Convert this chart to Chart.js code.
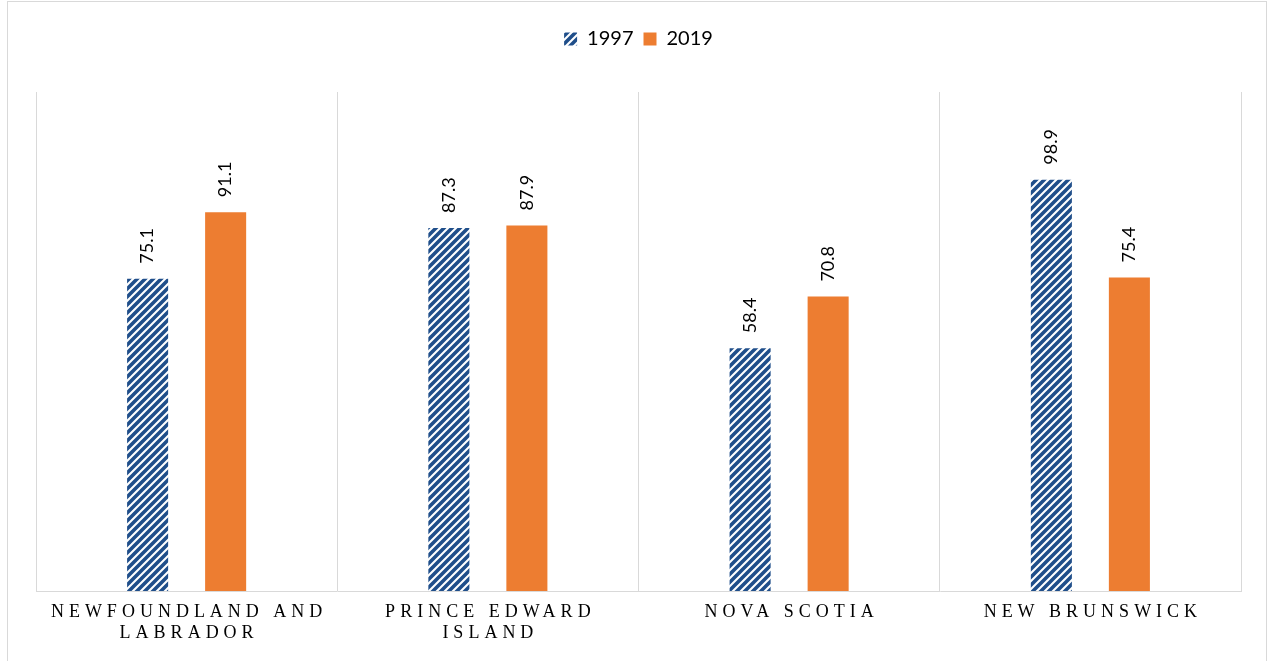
<!DOCTYPE html>
<html>
<head>
<meta charset="utf-8">
<script src="https://cdn.jsdelivr.net/npm/chart.js@4"></script>
<style>
    html, body { margin: 0; padding: 0; background: #fff; }
    .frame {
        position: absolute;
        left: 7px; top: 1px;
        width: 1260px; height: 670px;
        border: 1px solid #D9D9D9;
        box-sizing: border-box;
    }
    canvas { position: absolute; left: 0; top: 0; }
</style>
</head>
<body>
<div class="frame"></div>
<canvas id="chart" width="1271" height="661"></canvas>
<script>
const provinces = [
    ["NEWFOUNDLAND AND", "LABRADOR"],
    ["PRINCE EDWARD", "ISLAND"],
    ["NOVA SCOTIA"],
    ["NEW BRUNSWICK"]
];
const values1997 = [75.1, 87.3, 58.4, 98.9];
const values2019 = [91.1, 87.9, 70.8, 75.4];
const yMax = 120;

// diagonal hatch for the 1997 bars
function makeHatch() {
    const c = document.createElement('canvas');
    c.width = 8;
    c.height = 8;
    const g = c.getContext('2d');
    g.fillStyle = '#fff';
    g.fillRect(0, 0, 8, 8);
    g.strokeStyle = '#1F4E8A';
    g.lineWidth = 3.6;
    g.beginPath();
    g.moveTo(-2, 10); g.lineTo(10, -2);
    g.moveTo(-6, 6); g.lineTo(6, -6);
    g.moveTo(2, 14); g.lineTo(14, 2);
    g.stroke();
    return g.createPattern(c, 'repeat');
}

const canvas = document.getElementById('chart');
const hatch = makeHatch();

const legendSpace = {
    id: 'legendSpace',
    beforeInit(chart) {
        const fit = chart.legend.fit;
        chart.legend.fit = function () {
            fit.call(this);
            this.height += 33;
        };
    }
};

const valueLabels = {
    id: 'valueLabels',
    afterDatasetsDraw(chart) {
        const ctx = chart.ctx;
        ctx.save();
        ctx.font = '18px Lato';
        ctx.fillStyle = '#000';
        ctx.textAlign = 'left';
        ctx.textBaseline = 'middle';
        chart.data.datasets.forEach((ds, i) => {
            chart.getDatasetMeta(i).data.forEach((bar, j) => {
                ctx.save();
                ctx.translate(bar.x, bar.y - 15);
                ctx.rotate(-Math.PI / 2);
                ctx.fillText(ds.data[j].toFixed(1), 0, 0);
                ctx.restore();
            });
        });
        ctx.restore();
    }
};

const categoryLabels = {
    id: 'categoryLabels',
    afterDraw(chart) {
        const ctx = chart.ctx;
        const xScale = chart.scales.x;
        ctx.save();
        ctx.font = '18px "Liberation Serif"';
        ctx.letterSpacing = '5px';
        ctx.fillStyle = '#000';
        ctx.textAlign = 'center';
        ctx.textBaseline = 'middle';
        provinces.forEach((lines, i) => {
            const x = xScale.getPixelForValue(i) + 2.5;
            lines.forEach((line, k) => {
                ctx.fillText(line, x, 612 + k * 21);
            });
        });
        ctx.restore();
    }
};

new Chart(canvas, {
    type: 'bar',
    data: {
        labels: provinces.map(p => p.join(' ')),
        datasets: [{
            label: '1997',
            data: values1997,
            backgroundColor: hatch,
            categoryPercentage: 0.518,
            barPercentage: 0.526
        }, {
            label: '2019',
            data: values2019,
            backgroundColor: '#ED7D31',
            categoryPercentage: 0.518,
            barPercentage: 0.526
        }]
    },
    options: {
        responsive: false,
        animation: false,
        layout: {
            padding: { left: 36, right: 30, top: 19, bottom: 70 }
        },
        scales: {
            x: {
                grid: {
                    color: '#D9D9D9',
                    drawTicks: false
                },
                border: { color: '#D9D9D9' },
                ticks: { display: false }
            },
            y: {
                display: false,
                min: 0,
                max: yMax
            }
        },
        plugins: {
            legend: {
                position: 'top',
                labels: {
                    font: { family: 'Lato', size: 20 },
                    color: '#000',
                    boxWidth: 13,
                    boxHeight: 13,
                    padding: 10
                }
            },
            tooltip: { enabled: false }
        }
    },
    plugins: [legendSpace, valueLabels, categoryLabels]
});
</script>
</body>
</html>
